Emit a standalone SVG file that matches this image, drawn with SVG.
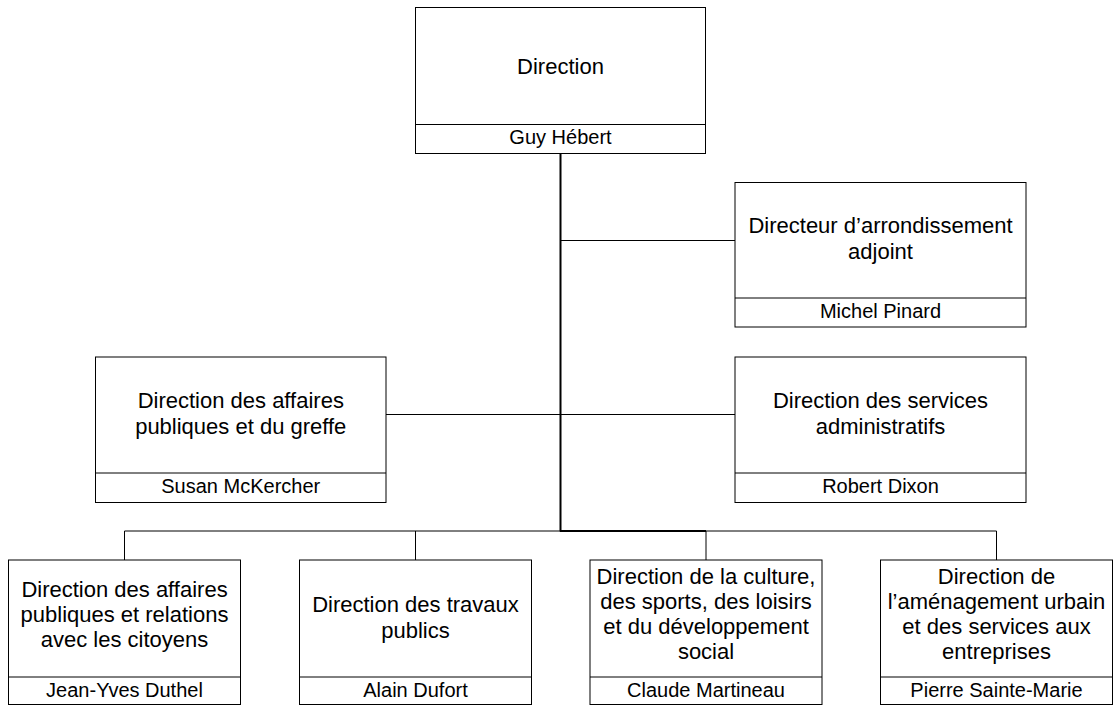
<svg xmlns="http://www.w3.org/2000/svg" width="1116" height="706" viewBox="0 0 1116 706">
<style>
.box{fill:#fff;stroke:#000;stroke-width:1}
.div{stroke:#000;stroke-width:1}
.t{font-family:"Liberation Sans",Arial,sans-serif;font-size:22px;fill:#000;text-anchor:middle}
.n{font-family:"Liberation Sans",Arial,sans-serif;font-size:20px;fill:#000;text-anchor:middle}
.c{stroke:#000;stroke-width:1;fill:none}
.cm{stroke:#000;stroke-width:2;fill:none}
</style>
<rect width="1116" height="706" fill="#fff"/>
<g id="connectors">
<line class="cm" x1="560.5" y1="153.5" x2="560.5" y2="531.5"/>
<line class="c" x1="561" y1="240.5" x2="735" y2="240.5"/>
<line class="c" x1="386" y1="414.5" x2="735" y2="414.5"/>
<line class="c" x1="124.5" y1="531" x2="560" y2="531"/>
<line class="cm" x1="560" y1="531" x2="706" y2="531"/>
<line class="c" x1="706" y1="531" x2="996.5" y2="531"/>
<line class="c" x1="124.5" y1="531" x2="124.5" y2="560"/>
<line class="c" x1="415.5" y1="531" x2="415.5" y2="560"/>
<line class="c" x1="706" y1="531" x2="706" y2="560"/>
<line class="c" x1="996.5" y1="531" x2="996.5" y2="560"/>
</g>
<g id="n-direction">
<rect class="box" x="415.5" y="7.5" width="290" height="146"/>
<line class="div" x1="415.5" y1="124.5" x2="705.5" y2="124.5"/>
<text class="t" x="560.5" y="74">Direction</text>
<text class="n" x="560.5" y="144">Guy Hébert</text>
</g>
<g id="n-adjoint">
<rect class="box" x="735" y="182.5" width="291" height="144.5"/>
<line class="div" x1="735" y1="298" x2="1026" y2="298"/>
<text class="t" x="880.5" y="233">Directeur d’arrondissement</text>
<text class="t" x="880.5" y="259">adjoint</text>
<text class="n" x="880.5" y="318">Michel Pinard</text>
</g>
<g id="n-greffe">
<rect class="box" x="95.5" y="357" width="290.5" height="145.5"/>
<line class="div" x1="95.5" y1="473" x2="386" y2="473"/>
<text class="t" x="240.75" y="408">Direction des affaires</text>
<text class="t" x="240.75" y="434">publiques et du greffe</text>
<text class="n" x="240.75" y="493">Susan McKercher</text>
</g>
<g id="n-admin">
<rect class="box" x="735" y="357" width="291" height="145.5"/>
<line class="div" x1="735" y1="473" x2="1026" y2="473"/>
<text class="t" x="880.5" y="408">Direction des services</text>
<text class="t" x="880.5" y="434">administratifs</text>
<text class="n" x="880.5" y="493">Robert Dixon</text>
</g>
<g id="n-citoyens">
<rect class="box" x="8.5" y="560" width="232" height="144.5"/>
<line class="div" x1="8.5" y1="677" x2="240.5" y2="677"/>
<text class="t" x="124.5" y="597">Direction des affaires</text>
<text class="t" x="124.5" y="622">publiques et relations</text>
<text class="t" x="124.5" y="647">avec les citoyens</text>
<text class="n" x="124.5" y="697">Jean-Yves Duthel</text>
</g>
<g id="n-travaux">
<rect class="box" x="299.5" y="560" width="232" height="144.5"/>
<line class="div" x1="299.5" y1="677" x2="531.5" y2="677"/>
<text class="t" x="415.5" y="612">Direction des travaux</text>
<text class="t" x="415.5" y="638">publics</text>
<text class="n" x="415.5" y="697">Alain Dufort</text>
</g>
<g id="n-culture">
<rect class="box" x="590" y="560" width="232" height="144.5"/>
<line class="div" x1="590" y1="677" x2="822" y2="677"/>
<text class="t" x="706" y="584">Direction de la culture,</text>
<text class="t" x="706" y="609">des sports, des loisirs</text>
<text class="t" x="706" y="634">et du développement</text>
<text class="t" x="706" y="659">social</text>
<text class="n" x="706" y="697">Claude Martineau</text>
</g>
<g id="n-urbain">
<rect class="box" x="880.5" y="560" width="232" height="144.5"/>
<line class="div" x1="880.5" y1="677" x2="1112.5" y2="677"/>
<text class="t" x="996.5" y="584">Direction de</text>
<text class="t" x="996.5" y="609">l’aménagement urbain</text>
<text class="t" x="996.5" y="634">et des services aux</text>
<text class="t" x="996.5" y="659">entreprises</text>
<text class="n" x="996.5" y="697">Pierre Sainte-Marie</text>
</g>
</svg>
